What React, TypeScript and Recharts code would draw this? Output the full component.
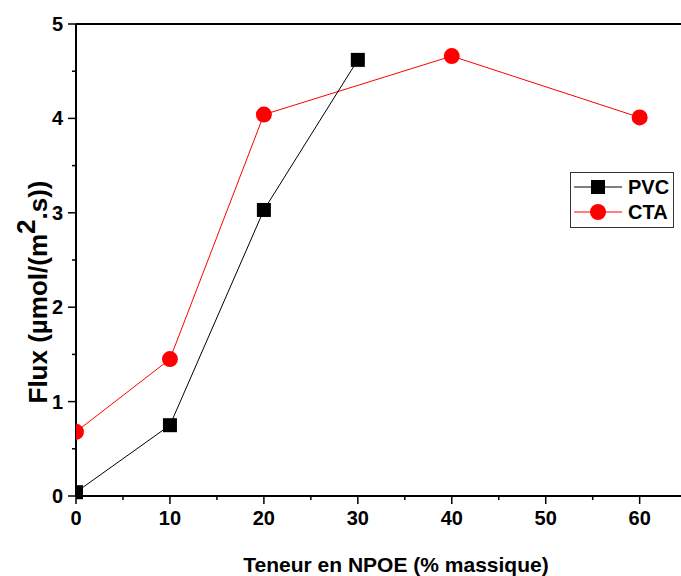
import { LineChart, Line, XAxis, YAxis, ReferenceLine } from 'recharts'

const teneur = [0, 10, 20, 30, 40, 60]
const pvcFlux = [0.04, 0.75, 3.03, 4.62, null, null]
const ctaFlux = [0.68, 1.45, 4.04, null, 4.66, 4.01]
const xTicks = [0, 5, 10, 15, 20, 25, 30, 35, 40, 45, 50, 55, 60]
const yTicks = [0, 0.5, 1, 1.5, 2, 2.5, 3, 3.5, 4, 4.5, 5]

const data = teneur.map((t, i) => ({ t, pvc: pvcFlux[i], cta: ctaFlux[i] }))

const FONT = '"Liberation Sans", Arial, sans-serif'

const XTick = ({ x, y, payload }: any) => {
  const major = payload.value % 10 === 0
  return (
    <g>
      <line x1={x} x2={x} y1={y} y2={y + (major ? 8 : 4)} stroke="#000" strokeWidth={1.5} />
      {major && (
        <text x={x} y={y + 29} textAnchor="middle" fontSize={20} fontWeight="bold" fontFamily={FONT} fill="#000">
          {payload.value}
        </text>
      )}
    </g>
  )
}

const YTick = ({ x, y, payload }: any) => {
  const major = payload.value % 1 === 0
  return (
    <g>
      <line x1={x} x2={x - (major ? 8 : 4)} y1={y} y2={y} stroke="#000" strokeWidth={1.5} />
      {major && (
        <text x={x - 13} y={y + 7} textAnchor="end" fontSize={20} fontWeight="bold" fontFamily={FONT} fill="#000">
          {payload.value}
        </text>
      )}
    </g>
  )
}

const Square = ({ cx, cy }: any) =>
  cx == null || cy == null ? null : <rect x={cx - 7} y={cy - 7} width={14} height={14} fill="#000" />

const Circle = ({ cx, cy }: any) =>
  cx == null || cy == null ? null : <circle cx={cx} cy={cy} r={8} fill="#ff0000" />

export default function App() {
  return (
    <div style={{ position: 'absolute', left: 0, top: 0, width: 681, height: 576, overflow: 'hidden', background: '#fff' }}>
      <LineChart width={681} height={576} data={data} margin={{ top: 24, right: 0, left: 0, bottom: 0 }}>
        <XAxis
          dataKey="t"
          type="number"
          domain={[0, 64.4]}
          ticks={xTicks}
          interval={0}
          stroke="#000"
          strokeWidth={2}
          tickLine={false}
          tickSize={0}
          tickMargin={0}
          tick={<XTick />}
          height={80}
          allowDataOverflow
        />
        <YAxis
          type="number"
          domain={[0, 5]}
          ticks={yTicks}
          interval={0}
          stroke="#000"
          strokeWidth={2}
          tickLine={false}
          tickSize={0}
          tickMargin={0}
          tick={<YTick />}
          width={76}
        />
        <ReferenceLine y={5} stroke="#000" strokeWidth={2} />
        <Line
          dataKey="cta"
          stroke="#ff0000"
          strokeWidth={1}
          dot={<Circle />}
          activeDot={false}
          connectNulls
          isAnimationActive={false}
        />
        <Line
          dataKey="pvc"
          stroke="#000"
          strokeWidth={1}
          dot={<Square />}
          activeDot={false}
          connectNulls
          isAnimationActive={false}
        />
        <g transform="translate(570, 172)">
          <rect x={0.5} y={0.5} width={103} height={55} fill="#fff" stroke="#333" strokeWidth={1} />
          <line x1={4} x2={52} y1={15} y2={15} stroke="#000" strokeWidth={1} />
          <rect x={21} y={8} width={14} height={14} fill="#000" />
          <text x={58} y={22} fontSize={20} fontWeight="bold" fontFamily={FONT} fill="#000">PVC</text>
          <line x1={4} x2={52} y1={40} y2={40} stroke="#ff0000" strokeWidth={1} />
          <circle cx={28} cy={40} r={8} fill="#ff0000" />
          <text x={58} y={47} fontSize={20} fontWeight="bold" fontFamily={FONT} fill="#000">CTA</text>
        </g>
        <text x={396} y={572} textAnchor="middle" fontSize={21} fontWeight="bold" fontFamily={FONT} fill="#000">
          Teneur en NPOE (% massique)
        </text>
        <text
          transform="translate(47, 292) rotate(-90)"
          textAnchor="middle"
          fontSize={26}
          fontWeight="bold"
          fontFamily={FONT}
          fill="#000"
        >
          Flux (µmol/(m<tspan dy={-12}>2</tspan>
          <tspan dy={12}>.s))</tspan>
        </text>
      </LineChart>
    </div>
  )
}
